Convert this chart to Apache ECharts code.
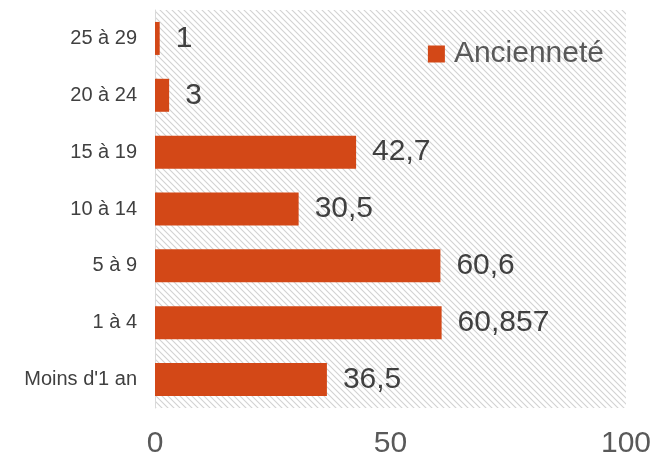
<!DOCTYPE html>
<html><head><meta charset="utf-8">
<script src="https://cdn.jsdelivr.net/npm/echarts@6/dist/echarts.min.js"></script>
<style>html,body{margin:0;padding:0;background:#fff}#c{width:654px;height:459px}</style>
</head><body><div id="c"></div>
<script>
const categories = ["Moins d'1 an", "1 à 4", "5 à 9", "10 à 14", "15 à 19", "20 à 24", "25 à 29"];
const values = [36.5, 60.857, 60.6, 30.5, 42.7, 3, 1];
const xTicks = [0, 50, 100];

const tile = document.createElement('canvas');
tile.width = 6; tile.height = 6;
const ctx = tile.getContext('2d');
ctx.strokeStyle = '#d2d2d2';
ctx.lineWidth = 1.1;
ctx.beginPath();
ctx.moveTo(0, 0); ctx.lineTo(6, 6);
ctx.moveTo(-3, 3); ctx.lineTo(3, 9);
ctx.moveTo(3, -3); ctx.lineTo(9, 3);
ctx.stroke();

const chart = echarts.init(document.getElementById('c'));
chart.setOption({
  animation: false,
  grid: { left: 155, right: 26, top: 10, bottom: 49, show: true, borderWidth: 0,
    backgroundColor: { image: tile, repeat: 'repeat' } },
  legend: { show: true, right: 45, top: 34, itemWidth: 17, itemHeight: 17, icon: 'rect',
    textStyle: { fontSize: 30, color: '#595959', fontFamily: 'Liberation Sans', padding: [0, 0, 0, 4] } },
  xAxis: { type: 'value', min: 0, max: 100, interval: 50,
    axisLine: { show: false }, axisTick: { show: false }, splitLine: { show: false },
    axisLabel: { fontSize: 30, color: '#595959', fontFamily: 'Liberation Sans', margin: 21,
      formatter: v => xTicks.includes(v) ? String(v) : '' } },
  yAxis: { type: 'category', data: categories,
    axisLine: { show: true, lineStyle: { color: '#d9d9d9', width: 1 } }, axisTick: { show: false },
    axisLabel: { fontSize: 20, color: '#404040', fontFamily: 'Liberation Sans', margin: 18 } },
  series: [{ name: 'Ancienneté', type: 'bar', data: values, barWidth: 33,
    itemStyle: { color: '#D34817' },
    label: { show: true, position: 'right', distance: 16, fontSize: 30, color: '#404040',
      fontFamily: 'Liberation Sans', formatter: p => String(p.value).replace('.', ',') } }]
});
</script></body></html>
